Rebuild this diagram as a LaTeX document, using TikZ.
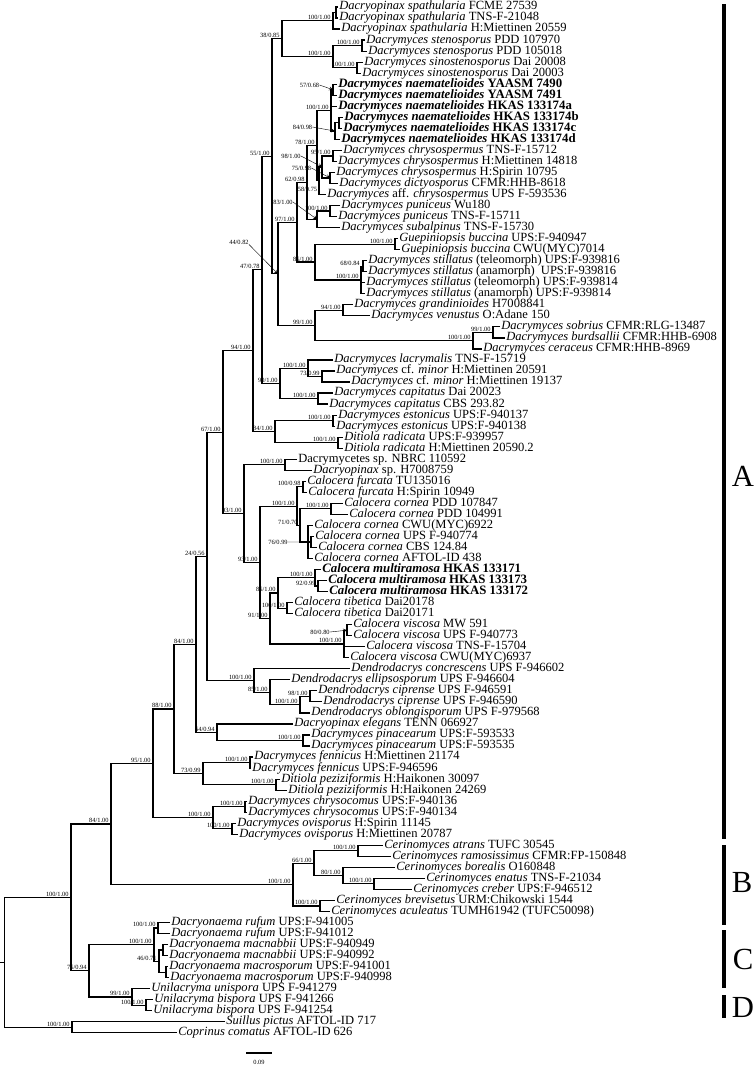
\documentclass[tikz,border=0pt]{standalone}
\usepackage{fontspec}
\setmainfont{Liberation Serif}
\usetikzlibrary{calc}
\newcommand{\leaf}[3]{\node[taxon] (t#1) at (#2,{7+(#1-1)*11.03}) {#3};}
\newcommand{\bleaf}[3]{\node[taxon,font=\fontsize{9.6}{10}\selectfont\bfseries] (t#1) at (#2,{7+(#1-1)*11.03}) {#3};}
\newcommand{\clade}[5]{%
  \coordinate (#1m) at ($(#3)!.5!(#4)$);
  \coordinate (#1) at (#2,0 |- #1m);
  \draw[branch] (#3) -| (#1) |- (#4);
  \node[support] (#1l) at (#1) {#5};}
\newcommand{\dn}[1]{\textit{Dacrymyces naematelioides} #1}
\newcommand{\cm}[1]{\textit{Calocera multiramosa} #1}

\begin{document}
\begin{tikzpicture}[x=0.75pt,y=-0.75pt,
  taxon/.style={anchor=west,inner xsep=0.8pt,inner ysep=0pt,text height=6.4pt,text depth=2pt,font=\fontsize{9.4}{10}\selectfont},
  support/.style={anchor=south east,inner sep=0pt,xshift=-1.6pt,yshift=0.5pt,font=\fontsize{4.8}{5}\selectfont},
  note/.style={inner sep=0pt,font=\fontsize{4.8}{5}\selectfont},
  branch/.style={line width=0.9pt},
  lead/.style={line width=0.3pt,-stealth},
  bar/.style={line width=2.4pt},
  letter/.style={inner sep=0pt,font=\fontsize{23}{24}\selectfont}]
\useasboundingbox (0,0) rectangle (754,1067);

\leaf{1}{338}{\textit{Dacryopinax spathularia} FCME 27539}
\leaf{2}{338}{\textit{Dacryopinax spathularia} TNS-F-21048}
\leaf{3}{340}{\textit{Dacryopinax spathularia} H:Miettinen 20559}
\leaf{4}{365}{\textit{Dacrymyces stenosporus} PDD 107970}
\leaf{5}{367}{\textit{Dacrymyces stenosporus} PDD 105018}
\leaf{6}{363}{\textit{Dacrymyces sinostenosporus} Dai 20008}
\leaf{7}{361}{\textit{Dacrymyces sinostenosporus} Dai 20003}
\bleaf{8}{337}{\dn{YAASM 7490}}
\bleaf{9}{337}{\dn{YAASM 7491}}
\bleaf{10}{337}{\dn{HKAS 133174a}}
\bleaf{11}{343}{\dn{HKAS 133174b}}
\bleaf{12}{342}{\dn{HKAS 133174c}}
\bleaf{13}{340}{\dn{HKAS 133174d}}
\leaf{14}{342}{\textit{Dacrymyces chrysospermus} TNS-F-15712}
\leaf{15}{337}{\textit{Dacrymyces chrysospermus} H:Miettinen 14818}
\leaf{16}{335}{\textit{Dacrymyces chrysospermus} H:Spirin 10795}
\leaf{17}{338}{\textit{Dacrymyces dictyosporus} CFMR:HHB-8618}
\leaf{18}{326}{\textit{Dacrymyces} aff. \textit{chrysospermus} UPS F-593536}
\leaf{19}{340}{\textit{Dacrymyces puniceus} Wu180}
\leaf{20}{337}{\textit{Dacrymyces puniceus} TNS-F-15711}
\leaf{21}{340}{\textit{Dacrymyces subalpinus} TNS-F-15730}
\leaf{22}{398}{\textit{Guepiniopsis buccina} UPS:F-940947}
\leaf{23}{400}{\textit{Guepiniopsis buccina} CWU(MYC)7014}
\leaf{24}{367}{\textit{Dacrymyces stillatus} (teleomorph) UPS:F-939816}
\leaf{25}{367}{\textit{Dacrymyces stillatus} (anamorph)\ \ UPS:F-939816}
\leaf{26}{365}{\textit{Dacrymyces stillatus} (teleomorph) UPS:F-939814}
\leaf{27}{365}{\textit{Dacrymyces stillatus} (anamorph) UPS:F-939814}
\leaf{28}{353}{\textit{Dacrymyces grandinioides} H7008841}
\leaf{29}{370}{\textit{Dacrymyces venustus} O:Adane 150}
\leaf{30}{500}{\textit{Dacrymyces sobrius} CFMR:RLG-13487}
\leaf{31}{505}{\textit{Dacrymyces burdsallii} CFMR:HHB-6908}
\leaf{32}{482}{\textit{Dacrymyces ceraceus} CFMR:HHB-8969}
\leaf{33}{333}{\textit{Dacrymyces lacrymalis} TNS-F-15719}
\leaf{34}{335}{\textit{Dacrymyces} cf. \textit{minor} H:Miettinen 20591}
\leaf{35}{350}{\textit{Dacrymyces} cf. \textit{minor} H:Miettinen 19137}
\leaf{36}{333}{\textit{Dacrymyces capitatus} Dai 20023}
\leaf{37}{328}{\textit{Dacrymyces capitatus} CBS 293.82}
\leaf{38}{337}{\textit{Dacrymyces estonicus} UPS:F-940137}
\leaf{39}{335}{\textit{Dacrymyces estonicus} UPS:F-940138}
\leaf{40}{343}{\textit{Ditiola radicata} UPS:F-939957}
\leaf{41}{343}{\textit{Ditiola radicata} H:Miettinen 20590.2}
\leaf{42}{297}{Dacrymycetes sp. NBRC 110592}
\leaf{43}{312}{\textit{Dacryopinax} sp. H7008759}
\leaf{44}{306}{\textit{Calocera furcata} TU135016}
\leaf{45}{307}{\textit{Calocera furcata} H:Spirin 10949}
\leaf{46}{343}{\textit{Calocera cornea} PDD 107847}
\leaf{47}{348}{\textit{Calocera cornea} PDD 104991}
\leaf{48}{313}{\textit{Calocera cornea} CWU(MYC)6922}
\leaf{49}{314}{\textit{Calocera cornea} UPS F-940774}
\leaf{50}{317}{\textit{Calocera cornea} CBS 124.84}
\leaf{51}{313}{\textit{Calocera cornea} AFTOL-ID 438}
\bleaf{52}{321}{\cm{HKAS 133171}}
\bleaf{53}{327}{\cm{HKAS 133173}}
\bleaf{54}{328}{\cm{HKAS 133172}}
\leaf{55}{293}{\textit{Calocera tibetica} Dai20178}
\leaf{56}{293}{\textit{Calocera tibetica} Dai20171}
\leaf{57}{352}{\textit{Calocera viscosa} MW 591}
\leaf{58}{352}{\textit{Calocera viscosa} UPS F-940773}
\leaf{59}{365}{\textit{Calocera viscosa} TNS-F-15704}
\leaf{60}{349}{\textit{Calocera viscosa} CWU(MYC)6937}
\leaf{61}{350}{\textit{Dendrodacrys concrescens} UPS F-946602}
\leaf{62}{290}{\textit{Dendrodacrys ellipsosporum} UPS F-946604}
\leaf{63}{317}{\textit{Dendrodacrys ciprense} UPS F-946591}
\leaf{64}{322}{\textit{Dendrodacrys ciprense} UPS F-946590}
\leaf{65}{310}{\textit{Dendrodacrys oblongisporum} UPS F-979568}
\leaf{66}{293}{\textit{Dacryopinax elegans} TENN 066927}
\leaf{67}{310}{\textit{Dacrymyces pinacearum} UPS:F-593533}
\leaf{68}{310}{\textit{Dacrymyces pinacearum} UPS:F-593535}
\leaf{69}{253}{\textit{Dacrymyces fennicus} H:Miettinen 21174}
\leaf{70}{251}{\textit{Dacrymyces fennicus} UPS:F-946596}
\leaf{71}{280}{\textit{Ditiola peziziformis} H:Haikonen 30097}
\leaf{72}{287}{\textit{Ditiola peziziformis} H:Haikonen 24269}
\leaf{73}{247}{\textit{Dacrymyces chrysocomus} UPS:F-940136}
\leaf{74}{247}{\textit{Dacrymyces chrysocomus} UPS:F-940134}
\leaf{75}{236}{\textit{Dacrymyces ovisporus} H:Spirin 11145}
\leaf{76}{238}{\textit{Dacrymyces ovisporus} H:Miettinen 20787}
\leaf{77}{383}{\textit{Cerinomyces atrans} TUFC 30545}
\leaf{78}{391}{\textit{Cerinomyces ramosissimus} CFMR:FP-150848}
\leaf{79}{395}{\textit{Cerinomyces borealis} O160848}
\leaf{80}{425}{\textit{Cerinomyces enatus} TNS-F-21034}
\leaf{81}{412}{\textit{Cerinomyces creber} UPS:F-946512}
\leaf{82}{335}{\textit{Cerinomyces brevisetus} URM:Chikowski 1544}
\leaf{83}{330}{\textit{Cerinomyces aculeatus} TUMH61942 (TUFC50098)}
\leaf{84}{170}{\textit{Dacryonaema rufum} UPS:F-941005}
\leaf{85}{170}{\textit{Dacryonaema rufum} UPS:F-941012}
\leaf{86}{168}{\textit{Dacryonaema macnabbii} UPS:F-940949}
\leaf{87}{168}{\textit{Dacryonaema macnabbii} UPS:F-940992}
\leaf{88}{168}{\textit{Dacryonaema macrosporum} UPS:F-941001}
\leaf{89}{169}{\textit{Dacryonaema macrosporum} UPS:F-940998}
\leaf{90}{150}{\textit{Unilacryma unispora} UPS F-941279}
\leaf{91}{153}{\textit{Unilacryma bispora} UPS F-941266}
\leaf{92}{152}{\textit{Unilacryma bispora} UPS F-941254}
\leaf{93}{225}{\textit{Suillus pictus} AFTOL-ID 717}
\leaf{94}{177}{\textit{Coprinus comatus} AFTOL-ID 626}

\clade{sp12}{336}{t1.west}{t2.west}{}
\clade{spath}{333}{sp12}{t3.west}{100/1.00}
\clade{sten}{362}{t4.west}{t5.west}{100/1.00}
\clade{sino}{357}{t6.west}{t7.west}{100/1.00}
\clade{stesi}{333}{sten}{sino}{100/1.00}
\clade{n38}{282}{spath}{stesi}{38/0.85}
\clade{nm12}{333}{t8.west}{t9.west}{}
\clade{nm56}{339}{t11.west}{t12.west}{}
\clade{nm456}{335}{nm56}{t13.west}{}
\clade{naem}{331}{nm12}{nm456}{100/1.00}
\draw[branch] (naem) |- (t10.west);
\clade{c12}{333}{t14.west}{t15.west}{95/1.00}
\clade{c34}{330}{t16.west}{t17.west}{}
\clade{c1234}{322}{c12}{c34}{}
\clade{chry}{319}{c1234}{t18.west}{}
\clade{n78}{317}{naem}{chry}{78/1.00}
\clade{pun}{330}{t19.west}{t20.west}{100/1.00}
\clade{n83}{317}{pun}{t21.west}{}
\clade{n62}{307}{n78}{n83}{62/0.98}
\clade{gue}{395}{t22.west}{t23.west}{100/1.00}
\clade{st12}{363}{t24.west}{t25.west}{}
\clade{still}{361}{st12}{t27.west}{100/1.00}
\draw[branch] (still) |- (t26.west);
\clade{n85}{315}{gue}{still}{85/1.00}
\clade{n97}{297}{n62}{n85}{97/1.00}
\clade{gv}{343}{t28.west}{t29.west}{94/1.00}
\clade{sb}{493}{t30.west}{t31.west}{99/1.00}
\clade{sbc}{473}{sb}{t32.west}{100/1.00}
\clade{n99}{315}{gv}{sbc}{99/1.00}
\clade{n44}{278}{n97}{n99}{}
\clade{n55}{272}{n38}{n44}{55/1.00}
\clade{mi}{322}{t34.west}{t35.west}{73/0.99}
\clade{lacmi}{308}{t33.west}{mi}{100/1.00}
\clade{cap}{318}{t36.west}{t37.west}{100/1.00}
\clade{n90}{280}{lacmi}{cap}{90/1.00}
\clade{n47}{262}{n55}{n90}{47/0.78}
\clade{est}{333}{t38.west}{t39.west}{100/1.00}
\clade{rad}{338}{t40.west}{t41.west}{100/1.00}
\clade{n84c}{275}{est}{rad}{84/1.00}
\clade{n94}{253}{n47}{n84c}{94/1.00}
\clade{dsp}{285}{t42.west}{t43.west}{100/1.00}
\clade{furc}{303}{t44.west}{t45.west}{100/0.98}
\clade{cornab}{331}{t46.west}{t47.west}{100/1.00}
\clade{cc1}{311}{t49.west}{t50.west}{}
\clade{corncd}{308}{t48.west}{t51.west}{}
\draw[branch] (corncd) |- (cc1);
\clade{corn}{300}{cornab}{corncd}{71/0.70}
\clade{xc}{297}{furc}{corn}{100/1.00}
\clade{m23}{318}{t53.west}{t54.west}{92/0.99}
\clade{multi}{315}{t52.west}{m23}{100/1.00}
\clade{tib}{287}{t55.west}{t56.west}{100/1.00}
\clade{n85m}{278}{multi}{tib}{85/1.00}
\clade{v12}{347}{t57.west}{t58.west}{}
\clade{vis}{344}{v12}{t60.west}{100/1.00}
\draw[branch] (vis) |- (t59.west);
\clade{n91}{270}{n85m}{vis}{91/1.00}
\clade{x2}{260}{xc}{n91}{93/1.00}
\clade{n93}{244}{dsp}{x2}{93/1.00}
\clade{n67}{223}{n94}{n93}{67/1.00}
\clade{d34}{310}{t63.west}{t64.west}{98/1.00}
\clade{d345}{300}{d34}{t65.west}{100/1.00}
\clade{d2345}{270}{t62.west}{d345}{85/1.00}
\clade{dendro}{254}{t61.west}{d2345}{100/1.00}
\clade{n24}{207}{n67}{dendro}{24/0.56}
\clade{pin}{303}{t67.west}{t68.west}{100/1.00}
\clade{n64}{217}{t66.west}{pin}{64/0.94}
\clade{n84b}{196}{n24}{n64}{84/1.00}
\clade{fen}{250}{t69.west}{t70.west}{100/1.00}
\clade{pez}{276}{t71.west}{t72.west}{100/1.00}
\clade{fp}{203}{fen}{pez}{73/0.99}
\clade{n88}{174}{n84b}{fp}{88/1.00}
\clade{chc}{245}{t73.west}{t74.west}{100/1.00}
\clade{ovi}{232}{t75.west}{t76.west}{100/1.00}
\clade{co}{213}{chc}{ovi}{100/1.00}
\clade{n95}{153}{n88}{co}{95/1.00}
\clade{atram}{358}{t77.west}{t78.west}{100/1.00}
\clade{encr}{374}{t80.west}{t81.west}{100/1.00}
\clade{bor}{343}{t79.west}{encr}{80/1.00}
\clade{n66}{314}{atram}{bor}{66/1.00}
\clade{brev}{320}{t82.west}{t83.west}{100/1.00}
\clade{cer}{293}{n66}{brev}{100/1.00}
\clade{n84}{111}{n95}{cer}{84/1.00}
\clade{ruf}{158}{t84.west}{t85.west}{100/1.00}
\clade{macn}{163}{t86.west}{t87.west}{}
\clade{macr}{166}{t88.west}{t89.west}{}
\clade{mm}{159}{macn}{macr}{46/0.71}
\clade{dac}{154}{ruf}{mm}{100/1.00}
\clade{bis}{146}{t91.west}{t92.west}{100/1.00}
\clade{uni}{132}{t90.west}{bis}{99/1.00}
\clade{cd}{89}{dac}{uni}{75/0.94}
\clade{ingroup}{71}{n84}{cd}{100/1.00}
\clade{og}{72}{t93.west}{t94.west}{100/1.00}
\clade{root}{4.6}{ingroup}{og}{}
\coordinate (stub) at (0,0 |- root);
\draw[branch] (stub) -- (root);

\node[note] (l57) at (309.5,85) {57/0.68};
\draw[lead] (l57.east) -- (nm12);
\node[note] (l84) at (302.5,127) {84/0.98};
\draw[lead] (l84.east) -- (nm456);
\node[note] (l98) at (291,156) {98/1.00};
\draw[lead] (l98.east) -- (c1234);
\node[note] (l75) at (301.5,168) {75/0.98};
\draw[lead] (l75.east) -- (c34);
\node[note] (l58) at (307.5,189) {58/0.75};
\node[note] (l83) at (283,202) {83/1.00};
\draw[lead] (l83.east) -- (n83);
\node[note] (l44) at (239,242) {44/0.82};
\draw[lead] (l44.south east) -- (n44);
\node[note] (l68) at (350,263) {68/0.84};
\node[note] (l76) at (278,542) {76/0.99};
\draw[lead] (l76.east) -- (cc1);
\node[note] (l80) at (320,632) {80/0.80};
\draw[lead] (l80.east) -- (v12);

\coordinate (a1) at (724,4);
\coordinate (a2) at (724,839);
\coordinate (b1) at (724,845);
\coordinate (b2) at (724,925);
\coordinate (c1) at (724,930);
\coordinate (c2) at (724,988);
\coordinate (d1) at (724,995);
\coordinate (d2) at (724,1018);
\draw[bar] (a1) -- (a2);
\draw[bar] (b1) -- (b2);
\draw[bar] (c1) -- (c2);
\draw[bar] (d1) -- (d2);
\node[letter] (la) at (743,476) {A};
\node[letter] (lb) at (742,882) {B};
\node[letter] (lc) at (743,959) {C};
\node[letter] (ld) at (743,1007) {D};

\coordinate (s1) at (246,1053);
\coordinate (s2) at (272,1053);
\draw[branch] (s1) -- (s2);
\node[note] (scale) at (259,1062) {0.09};
\end{tikzpicture}
\end{document}
